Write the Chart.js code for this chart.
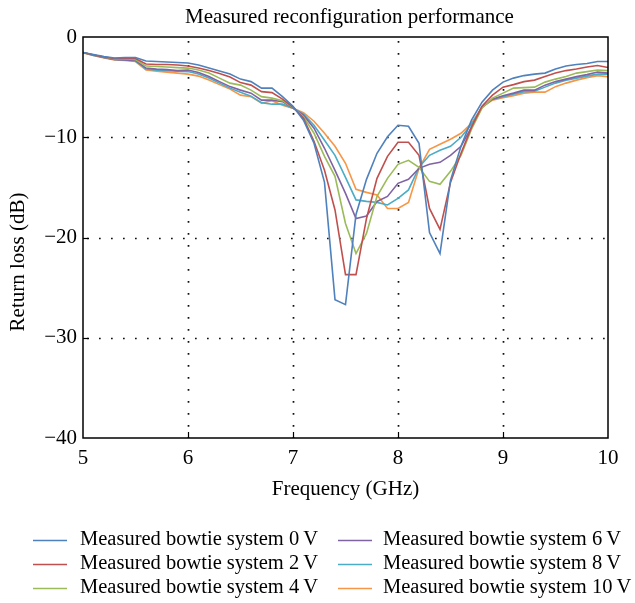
<!DOCTYPE html>
<html><head><meta charset="utf-8">
<script src="https://cdn.jsdelivr.net/npm/chart.js@4/dist/chart.umd.min.js"></script>
<style>html,body{margin:0;padding:0;background:#fff}#wrap{position:relative;width:635px;height:603px}</style>
</head><body><div id="wrap"><canvas id="c" width="635" height="603"></canvas></div>
<script>
const chartTitle = 'Measured reconfiguration performance';
const xTitle = 'Frequency (GHz)';
const yTitle = 'Return loss (dB)';
const xTickValues = [5, 6, 7, 8, 9, 10];
const yTickValues = [0, -10, -20, -30, -40];
const frequencies = [5.0,5.1,5.2,5.3,5.4,5.5,5.6,5.7,5.8,5.9,6.0,6.1,6.2,6.3,6.4,6.5,6.6,6.7,6.8,6.9,7.0,7.1,7.2,7.3,7.4,7.5,7.6,7.7,7.8,7.9,8.0,8.1,8.2,8.3,8.4,8.5,8.6,8.7,8.8,8.9,9.0,9.1,9.2,9.3,9.4,9.5,9.6,9.7,9.8,9.9,10.0];
const seriesNames = ['Measured bowtie system 0\u2009V','Measured bowtie system 2\u2009V','Measured bowtie system 4\u2009V','Measured bowtie system 6\u2009V','Measured bowtie system 8\u2009V','Measured bowtie system 10\u2009V'];
const seriesColors = ['#4F81BD','#C0504D','#9BBB59','#8064A2','#4BACC6','#F79646'];
const v0 = [-1.55,-1.75,-1.95,-2.1,-2.05,-2.05,-2.4,-2.45,-2.5,-2.55,
 -2.6,-2.8,-3.1,-3.4,-3.7,-4.2,-4.45,-5.1,-5.1,-5.95,
 -6.9,-8.3,-10.6,-14.5,-26.2,-26.7,-17.7,-14.2,-11.6,-9.95,
 -8.8,-8.9,-10.6,-19.5,-21.6,-14.3,-10.9,-8.3,-6.5,-5.3,
 -4.5,-4.1,-3.85,-3.7,-3.6,-3.2,-2.9,-2.75,-2.65,-2.45,
 -2.45];
const v2 = [-1.55,-1.8,-2.0,-2.15,-2.15,-2.15,-2.7,-2.75,-2.75,-2.8,
 -2.9,-3.1,-3.35,-3.65,-4.0,-4.55,-4.8,-5.45,-5.55,-6.2,
 -7.0,-8.1,-10.4,-13.3,-17.25,-23.7,-23.7,-18.1,-14.1,-11.9,
 -10.5,-10.5,-11.8,-17.1,-19.2,-14.5,-11.6,-9.0,-6.9,-5.8,
 -5.0,-4.75,-4.45,-4.3,-3.95,-3.6,-3.35,-3.2,-3.0,-2.85,
 -3.05];
const v4 = [-1.55,-1.8,-2.0,-2.2,-2.2,-2.25,-2.9,-2.95,-3.0,-3.05,
 -3.1,-3.3,-3.6,-4.1,-4.6,-4.8,-5.3,-5.95,-6.1,-6.35,
 -7.05,-7.95,-9.6,-11.9,-13.9,-18.6,-21.6,-19.6,-15.9,-14.1,
 -12.7,-12.3,-13.0,-14.4,-14.7,-13.4,-11.8,-9.2,-7.1,-6.1,
 -5.6,-5.1,-5.05,-5.0,-4.5,-4.2,-3.95,-3.6,-3.45,-3.3,
 -3.35];
const v6 = [-1.55,-1.8,-2.05,-2.25,-2.3,-2.35,-3.1,-3.2,-3.25,-3.35,
 -3.3,-3.55,-3.95,-4.45,-4.95,-5.3,-5.6,-6.3,-6.3,-6.45,
 -7.1,-7.8,-9.1,-11.1,-13.3,-15.6,-18.1,-17.85,-16.4,-15.9,
 -14.6,-14.2,-13.1,-12.7,-12.5,-11.8,-10.9,-9.0,-7.0,-6.2,
 -5.85,-5.6,-5.3,-5.3,-4.8,-4.45,-4.2,-3.95,-3.75,-3.5,
 -3.6];
const v8 = [-1.55,-1.85,-2.05,-2.25,-2.3,-2.4,-3.2,-3.3,-3.35,-3.4,
 -3.45,-3.7,-4.1,-4.6,-5.1,-5.5,-5.9,-6.55,-6.7,-6.7,
 -7.1,-7.7,-8.8,-10.3,-11.8,-14.0,-16.25,-16.4,-16.5,-16.75,
 -16.1,-15.25,-13.0,-11.8,-11.3,-10.9,-10.0,-8.7,-7.0,-6.2,
 -5.95,-5.7,-5.45,-5.4,-5.0,-4.6,-4.3,-4.1,-3.9,-3.7,
 -3.7];
const v10 = [-1.6,-1.85,-2.1,-2.3,-2.35,-2.45,-3.3,-3.4,-3.5,-3.6,
 -3.7,-3.9,-4.3,-4.75,-5.2,-5.8,-5.95,-6.6,-6.35,-6.8,
 -7.1,-7.55,-8.4,-9.6,-10.9,-12.6,-15.2,-15.5,-15.75,-17.1,
 -17.1,-16.5,-13.1,-11.2,-10.7,-10.2,-9.6,-8.6,-7.0,-6.3,
 -6.05,-5.85,-5.6,-5.5,-5.5,-4.95,-4.6,-4.3,-4.05,-3.85,
 -3.95];
const seriesValues = [v0, v2, v4, v6, v8, v10];

const FONT = "'Liberation Serif', 'DejaVu Serif', serif";
const FS = 21;
const LEGEND_FS = 20.5;
Chart.defaults.font.family = FONT;
Chart.defaults.color = '#000';

const datasets = seriesValues.map((vals, i) => ({
  label: seriesNames[i],
  data: vals.map((v, j) => ({x: frequencies[j], y: v})),
  borderColor: seriesColors[i],
  backgroundColor: seriesColors[i],
  borderWidth: 1.6,
  pointRadius: 0,
  tension: 0,
  fill: false
}));

const framePlugin = {
  id: 'frame',
  beforeDatasetsDraw(chart) {
    const {ctx, chartArea: a, scales: {x, y}} = chart;
    ctx.save();
    ctx.strokeStyle = '#111';
    ctx.lineWidth = 1.7;
    ctx.setLineDash([1.7, 10.3]);
    xTickValues.slice(1, -1).forEach(v => {
      const px = Math.round(x.getPixelForValue(v)) + 0.5;
      ctx.beginPath(); ctx.moveTo(px, a.top + 4); ctx.lineTo(px, a.bottom); ctx.stroke();
    });
    yTickValues.slice(1, -1).forEach(v => {
      const py = Math.round(y.getPixelForValue(v)) + 0.5;
      ctx.beginPath(); ctx.moveTo(a.left + 4, py); ctx.lineTo(a.right, py); ctx.stroke();
    });
    ctx.restore();
  },
  afterDatasetsDraw(chart) {
    const {ctx, chartArea: a, scales: {x, y}} = chart;
    ctx.save();
    ctx.strokeStyle = '#000';
    ctx.lineWidth = 1.5;
    ctx.setLineDash([]);
    ctx.strokeRect(a.left, a.top, a.right - a.left, a.bottom - a.top);
    ctx.lineWidth = 1.2;
    xTickValues.slice(1, -1).forEach(v => {
      const px = Math.round(x.getPixelForValue(v)) + 0.5;
      ctx.beginPath(); ctx.moveTo(px, a.bottom); ctx.lineTo(px, a.bottom - 6); ctx.stroke();
    });
    yTickValues.slice(1, -1).forEach(v => {
      const py = Math.round(y.getPixelForValue(v)) + 0.5;
      ctx.beginPath(); ctx.moveTo(a.left, py); ctx.lineTo(a.left + 6, py); ctx.stroke();
    });
    // title
    ctx.fillStyle = '#000';
    ctx.font = FS + 'px ' + FONT;
    ctx.textAlign = 'center';
    ctx.textBaseline = 'middle';
    ctx.fillText(chartTitle, (a.left + a.right) / 2 + 4, 17);
    // y axis title
    ctx.save();
    ctx.translate(18, 262);
    ctx.rotate(-Math.PI / 2);
    ctx.fillText(yTitle, 0, 0);
    ctx.restore();
    // legend
    const colLine = [33, 338];
    const colText = [80, 383];
    const rowY = [540, 564, 588];
    ctx.font = LEGEND_FS + 'px ' + FONT;
    ctx.textAlign = 'left';
    chart.data.datasets.forEach((ds, i) => {
      const c = Math.floor(i / 3), r = i % 3;
      ctx.strokeStyle = ds.borderColor;
      ctx.lineWidth = 1.5;
      ctx.beginPath();
      ctx.moveTo(colLine[c], rowY[r] + 0.5);
      ctx.lineTo(colLine[c] + 34, rowY[r] + 0.5);
      ctx.stroke();
      ctx.fillStyle = '#000';
      ctx.fillText(ds.label, colText[c], rowY[r]);
    });
    ctx.restore();
  }
};

new Chart(document.getElementById('c'), {
  type: 'line',
  data: {datasets},
  plugins: [framePlugin],
  options: {
    responsive: false,
    devicePixelRatio: 1,
    animation: false,
    layout: {padding: {top: 37, right: 27, bottom: 101, left: 0}},
    plugins: {legend: {display: false}, title: {display: false}, tooltip: {enabled: false}},
    scales: {
      x: {
        type: 'linear', min: 5, max: 10,
        afterBuildTicks(s) { s.ticks = xTickValues.map(v => ({value: v})); },
        ticks: {padding: 8, font: {size: FS}, color: '#000', callback: v => String(v)},
        grid: {display: false, drawTicks: false},
        border: {display: false},
        title: {display: true, text: xTitle, font: {size: FS}, color: '#000', padding: {top: 0, bottom: 0}},
        afterFit(s) { s.height = 64; }
      },
      y: {
        type: 'linear', min: -40, max: 0,
        afterBuildTicks(s) { s.ticks = yTickValues.map(v => ({value: v})); },
        ticks: {padding: 6, font: {size: FS}, color: '#000', callback: v => v < 0 ? '\u2212' + Math.abs(v) : String(v)},
        grid: {display: false, drawTicks: false},
        border: {display: false},
        title: {display: false},
        afterFit(s) { s.width = 83; }
      }
    }
  }
});
</script></body></html>
